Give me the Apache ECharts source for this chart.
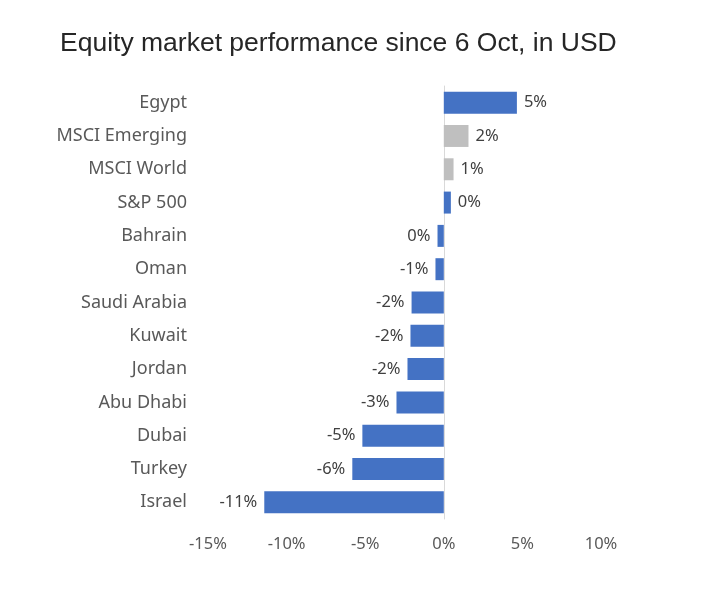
<!DOCTYPE html>
<html><head><meta charset="utf-8">
<script src="https://cdn.jsdelivr.net/npm/echarts@6/dist/echarts.min.js"></script>
<style>html,body{margin:0;padding:0;background:#fff}#c{width:704px;height:594px}</style>
</head><body><div id="c"></div>
<script>
const categories = ["Egypt","MSCI Emerging","MSCI World","S&P 500","Bahrain","Oman","Saudi Arabia","Kuwait","Jordan","Abu Dhabi","Dubai","Turkey","Israel"];
const values = [4.65, 1.57, 0.62, 0.45, -0.4, -0.53, -2.05, -2.12, -2.31, -3.01, -5.18, -5.82, -11.42];
const colors = ["#4472C4","#BFBFBF","#BFBFBF","#4472C4","#4472C4","#4472C4","#4472C4","#4472C4","#4472C4","#4472C4","#4472C4","#4472C4","#4472C4"];
const xTicks = [-15,-10,-5,0,5,10];

function fmt(v){ let r = Math.round(v); if (Object.is(r,-0)) r = 0; return r + "%"; }

const chart = echarts.init(document.getElementById('c'));
chart.setOption({
  animation:false,
  title:{text:"Equity market performance since 6 Oct, in USD", left:55, top:25,
    textStyle:{fontFamily:"Liberation Sans", fontSize:26.5, fontWeight:"normal", color:"#262626"}},
  grid:{left:208, right:103, top:86, bottom:75, containLabel:false},
  xAxis:{type:"value", min:xTicks[0], max:xTicks[xTicks.length-1], interval:5,
    axisLine:{show:false}, axisTick:{show:false}, splitLine:{show:false},
    axisLabel:{formatter:v=>v+"%", fontFamily:"Noto Sans", fontSize:16.5, color:"#595959", margin:17}},
  yAxis:{type:"category", data:categories, inverse:true,
    axisLine:{show:true, onZero:true, lineStyle:{color:"#D9D9D9", width:1}},
    axisTick:{show:false},
    axisLabel:{fontFamily:"Noto Sans", fontSize:18, color:"#595959", margin:21, align:"right"}},
  series:[{type:"bar", barCategoryGap:"34%",
    data: values.map((v,i)=>({value:v, itemStyle:{color:colors[i]},
      label:{position: v>=0 ? "right" : "left"}})),
    label:{show:true, distance:7, formatter:p=>fmt(p.value), fontFamily:"Noto Sans", fontSize:16.5, color:"#404040"}
  }]
});
</script></body></html>
